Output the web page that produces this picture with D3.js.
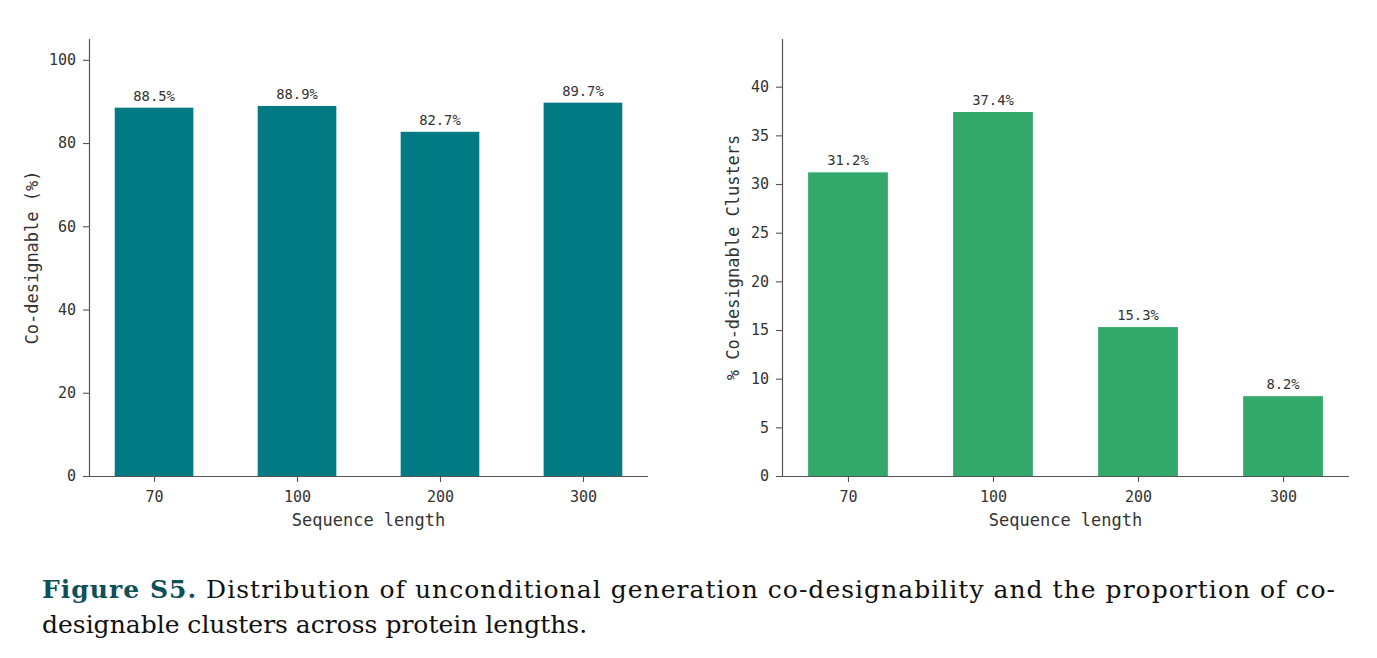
<!DOCTYPE html>
<html>
<head>
<meta charset="utf-8">
<script src="https://cdn.jsdelivr.net/npm/d3@7"></script>
<style>
	html, body { margin: 0; padding: 0; background: #fff; }
	svg { display: block; }
	.tick text { font-family: 'DejaVu Sans Mono', monospace; }
</style>
</head>
<body>
<svg id="fig" width="1377" height="658"></svg>
<script>
	'use strict';

	const lengths = ['70', '100', '200', '300'];
	const codesignable = [88.5, 88.9, 82.7, 89.7];
	const clusters = [31.2, 37.4, 15.3, 8.2];
	const leftTicks = [0, 20, 40, 60, 80, 100];
	const rightTicks = [0, 5, 10, 15, 20, 25, 30, 35, 40];

	const mono = "'DejaVu Sans Mono', monospace";
	const textColor = '#333';
	const axisColor = '#555';

	const svg = d3.select('#fig');

	function drawPanel(opts) {
		const g = svg.append('g');
		const rows = opts.values.map((v, i) => ({ key: lengths[i], value: v }));

		const x = d3.scalePoint()
			.domain(lengths)
			.range([opts.left, opts.right])
			.padding(0.455);
		const y = d3.scaleLinear()
			.domain([0, opts.yMax])
			.range([opts.bottom, opts.top]);
		const barWidth = x.step() * 0.55;

		g.selectAll('rect.bar')
			.data(rows)
			.join('rect')
			.attr('class', 'bar')
			.attr('x', (d) => x(d.key) - barWidth / 2)
			.attr('width', barWidth)
			.attr('y', (d) => y(d.value))
			.attr('height', (d) => y(0) - y(d.value))
			.attr('fill', opts.color);

		g.selectAll('text.val')
			.data(rows)
			.join('text')
			.attr('class', 'val')
			.attr('x', (d) => x(d.key))
			.attr('y', (d) => y(d.value) - 7)
			.attr('text-anchor', 'middle')
			.attr('font-family', mono)
			.attr('font-size', 13.8)
			.attr('fill', textColor)
			.text((d) => d.value.toFixed(1) + '%');

		const xAxis = g.append('g')
			.attr('transform', `translate(0,${opts.bottom})`)
			.call(d3.axisBottom(x).tickSize(6).tickPadding(9));
		xAxis.select('.domain').attr('d', `M${opts.left},0.5H${opts.right}`);

		const yAxis = g.append('g')
			.attr('transform', `translate(${opts.left},0)`)
			.call(d3.axisLeft(y).tickValues(opts.ticks).tickSize(6).tickPadding(7));
		yAxis.select('.domain').attr('d', `M0.5,${opts.bottom}V${opts.top}`);

		[xAxis, yAxis].forEach((a) => {
			a.selectAll('.domain').attr('stroke', axisColor).attr('stroke-width', 1.2);
			a.selectAll('.tick line').attr('stroke', axisColor).attr('stroke-width', 1.1);
			a.selectAll('.tick text')
				.attr('fill', textColor)
				.attr('font-size', 15);
		});

		g.append('text')
			.attr('x', (opts.left + opts.right) / 2)
			.attr('y', opts.bottom + 50)
			.attr('text-anchor', 'middle')
			.attr('font-family', mono)
			.attr('font-size', 17)
			.attr('fill', textColor)
			.text('Sequence length');

		g.append('text')
			.attr('transform', `translate(${opts.yLabelX},${(opts.top + opts.bottom) / 2}) rotate(-90)`)
			.attr('text-anchor', 'middle')
			.attr('font-family', mono)
			.attr('font-size', 17)
			.attr('fill', textColor)
			.text(opts.yLabel);
	}

	drawPanel({
		values: codesignable,
		ticks: leftTicks,
		yMax: 105,
		left: 89,
		right: 648,
		top: 39,
		bottom: 476,
		color: '#017a84',
		yLabel: 'Co-designable (%)',
		yLabelX: 38
	});

	drawPanel({
		values: clusters,
		ticks: rightTicks,
		yMax: 44.9,
		left: 782,
		right: 1349,
		top: 39,
		bottom: 476,
		color: '#32a86a',
		yLabel: '% Co-designable Clusters',
		yLabelX: 739
	});

	// caption
	const serif = "'DejaVu Serif', serif";
	const line1 = svg.append('text')
		.attr('x', 42)
		.attr('y', 598)
		.attr('font-family', serif)
		.attr('font-size', 25)
		.attr('textLength', 1293)
		.attr('lengthAdjust', 'spacing')
		.attr('fill', '#111');
	line1.append('tspan')
		.attr('font-weight', 'bold')
		.attr('fill', '#0f4f5a')
		.text('Figure S5.');
	line1.append('tspan')
		.text(' Distribution of unconditional generation co-designability and the proportion of co-');

	svg.append('text')
		.attr('x', 42)
		.attr('y', 633)
		.attr('font-family', serif)
		.attr('font-size', 25)
		.attr('fill', '#111')
		.text('designable clusters across protein lengths.');
</script>
</body>
</html>
